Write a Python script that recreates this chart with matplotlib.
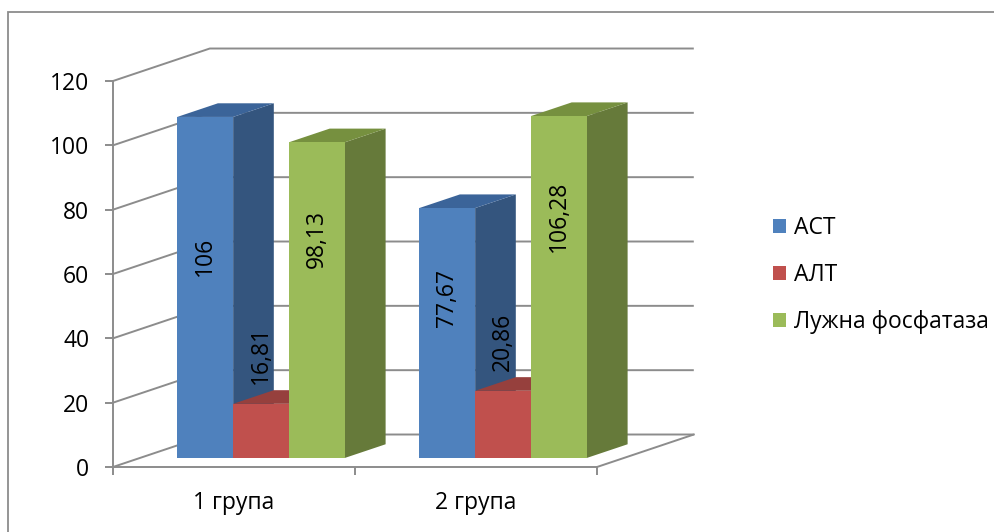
import matplotlib
matplotlib.use("Agg")
import matplotlib.pyplot as plt
from matplotlib.patches import Polygon, Patch, Rectangle
import numpy as np

plt.rcParams['font.family'] = ['Open Sans', 'DejaVu Sans']

categories = ["1 група", "2 група"]
series = ["АСТ", "АЛТ", "Лужна фосфатаза"]
ast = [106, 77.67]
alt = [16.81, 20.86]
alp = [98.13, 106.28]
value_text = [["106", "77,67"], ["16,81", "20,86"], ["98,13", "106,28"]]
yticks = [0, 20, 40, 60, 80, 100, 120]

front_colors = ["#4F81BD", "#C0504D", "#9BBB59"]
side_colors = ["#34557E", "#8E3B39", "#667A3A"]
top_colors = ["#3B6499", "#96403D", "#76903F"]
label_frac = [0.56, None, 0.63]

# fake 3d: depth offset of the back wall in data units
DX, DY = 0.40, 10.1
f0, f1 = 0.28, 0.70   # bar front / back position in depth
W = 0.231
grid_c = "#8C8C8C"

fig = plt.figure(figsize=(9.94, 5.32), dpi=100)
fig.patches.append(Rectangle((8 / 994, -10 / 532), 1000 / 994, 530 / 532,
                             transform=fig.transFigure, fill=False,
                             edgecolor="#8C8C8C", lw=1.3))

ax = fig.add_axes([113 / 994, 65 / 532, 484 / 994, 386 / 532])
ax.set_xlim(0, 2)
ax.set_ylim(0, 120)

# back wall gridlines + floor
for v in yticks:
    ax.plot([0, DX, 2 + DX], [v, v + DY, v + DY], color=grid_c, lw=1.4,
            clip_on=False, zorder=1, solid_capstyle="butt")
ax.plot([2, 2 + DX], [0, DY], color=grid_c, lw=1.4, clip_on=False, zorder=1)

data = [ast, alt, alp]
xc = np.arange(len(categories)) + 0.5
for i, vals in enumerate(data):
    x0 = xc - 1.5 * W + i * W
    fx = x0 + f0 * DX
    fy = f0 * DY
    bx = (f1 - f0) * DX
    by = (f1 - f0) * DY
    for j, v in enumerate(vals):
        side = [(fx[j] + W, fy), (fx[j] + W + bx, fy + by),
                (fx[j] + W + bx, fy + v + by), (fx[j] + W, fy + v)]
        top = [(fx[j], fy + v), (fx[j] + bx, fy + v + by),
               (fx[j] + W + bx, fy + v + by), (fx[j] + W, fy + v)]
        ax.add_patch(Polygon(side, closed=True, facecolor=side_colors[i],
                             edgecolor="none", clip_on=False, zorder=2 + i))
        ax.add_patch(Polygon(top, closed=True, facecolor=top_colors[i],
                             edgecolor="none", clip_on=False, zorder=2 + i))
    ax.bar(fx, vals, W, bottom=fy, align="edge", color=front_colors[i],
           zorder=2.5 + i, clip_on=False)
    for j, v in enumerate(vals):
        if label_frac[i] is None:
            yb = v + fy + by + 2
        else:
            yb = v * label_frac[i]
        ax.text(fx[j] + W / 2, yb, value_text[i][j], rotation=90,
                ha="center", va="bottom", fontsize=16.5, zorder=10)

for s in ["top", "right"]:
    ax.spines[s].set_visible(False)
for s in ["left", "bottom"]:
    ax.spines[s].set_color(grid_c)
    ax.spines[s].set_linewidth(1.4)

ax.set_yticks(yticks)
ax.set_yticklabels([str(t) for t in yticks])
ax.tick_params(axis="y", length=6, width=1.4, color=grid_c, pad=11,
               labelsize=16.5)
ax.set_xticks([0, 1, 2])
ax.set_xticklabels([])
ax.tick_params(axis="x", which="major", length=6, width=1.4, color=grid_c)
ax.set_xticks(xc, minor=True)
ax.set_xticklabels(categories, minor=True)
ax.tick_params(axis="x", which="minor", length=0, pad=17, labelsize=16.5)

handles = [Patch(facecolor=c, edgecolor="none") for c in front_colors]
fig.legend(handles, series, loc="center left",
           bbox_to_anchor=(752 / 994, 1 - 275 / 532), frameon=False,
           fontsize=16.5, handlelength=0.6, handleheight=0.6,
           handletextpad=0.35, labelspacing=1.0)

fig.savefig("out.png", dpi=100)
